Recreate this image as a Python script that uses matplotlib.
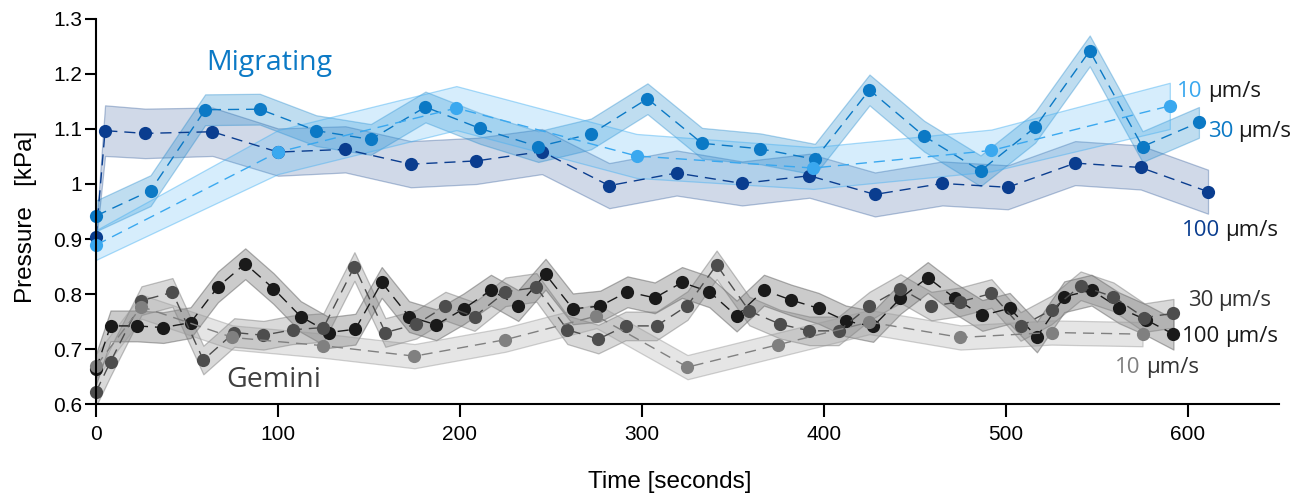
import numpy as np
import matplotlib
matplotlib.use('Agg')
import matplotlib.pyplot as plt
from matplotlib.colors import to_rgba
from matplotlib.ticker import FuncFormatter

# Migrating cells (blue), three pulling speeds
mig10_t = [0, 100, 198, 297, 394, 492, 590]
mig10_p = [0.889, 1.058, 1.138, 1.051, 1.029, 1.061, 1.142]
mig10_err = [0.027, 0.040, 0.040, 0.040, 0.038, 0.038, 0.042]

mig30_t = [0, 30, 60, 90, 121, 151, 181, 211, 243, 272, 303, 333, 365, 395,
           425, 455, 486, 516, 546, 575, 606]
mig30_p = [0.942, 0.988, 1.135, 1.136, 1.097, 1.081, 1.140, 1.101, 1.068, 1.091,
           1.155, 1.074, 1.064, 1.045, 1.171, 1.087, 1.024, 1.103, 1.242, 1.068, 1.112]
mig30_err = 0.028

mig100_t = [0, 5, 27, 64, 100, 137, 173, 209, 245, 282, 319, 355, 392, 428,
            465, 501, 538, 574, 611]
mig100_p = [0.903, 1.097, 1.092, 1.095, 1.058, 1.063, 1.036, 1.042, 1.059, 0.997,
            1.020, 1.001, 1.015, 0.981, 1.001, 0.994, 1.038, 1.030, 0.986]
mig100_err = [0.01, 0.046, 0.045, 0.044, 0.043, 0.042, 0.042, 0.042, 0.041, 0.041,
              0.041, 0.040, 0.040, 0.040, 0.040, 0.040, 0.040, 0.040, 0.040]

# Gemini cells (grey)
gem10_t = [0, 25, 75, 125, 175, 225, 275, 325, 375, 425, 475, 525, 575]
gem10_p = [0.669, 0.777, 0.721, 0.706, 0.687, 0.717, 0.760, 0.667, 0.708, 0.749,
           0.721, 0.730, 0.727]
gem10_err = 0.022

gem30_t = [0, 8, 25, 42, 59, 76, 92, 108, 125, 142, 159, 176, 192, 208, 225, 242,
           259, 276, 291, 308, 325, 341, 359, 376, 392, 408, 425, 442, 459, 475,
           492, 508, 525, 541, 559, 576, 592]
gem30_p = [0.622, 0.677, 0.788, 0.803, 0.680, 0.730, 0.725, 0.735, 0.739, 0.850,
           0.730, 0.745, 0.778, 0.759, 0.804, 0.812, 0.735, 0.718, 0.742, 0.742,
           0.779, 0.853, 0.769, 0.745, 0.733, 0.733, 0.778, 0.810, 0.778, 0.786,
           0.801, 0.741, 0.771, 0.815, 0.795, 0.757, 0.765]
gem30_err = 0.026

gem100_t = [0, 8, 22.5, 37, 52, 67, 82, 97.5, 112.5, 128, 142.5, 157, 172, 187,
            202, 217, 232, 247, 262, 277, 292, 307, 322, 337, 352, 367, 382, 397,
            412, 427, 442, 457, 472, 487, 502, 517, 532, 547, 562, 577, 592]
gem100_p = [0.663, 0.742, 0.742, 0.739, 0.748, 0.813, 0.855, 0.810, 0.759, 0.730,
            0.736, 0.821, 0.759, 0.744, 0.773, 0.807, 0.779, 0.836, 0.773, 0.778,
            0.804, 0.793, 0.821, 0.804, 0.760, 0.807, 0.789, 0.774, 0.751, 0.741,
            0.792, 0.830, 0.792, 0.761, 0.774, 0.722, 0.795, 0.807, 0.775, 0.753,
            0.727]
gem100_err = 0.028

LIGHT_BLUE = '#3aa8ef'
MID_BLUE = '#0b79c5'
DARK_BLUE = '#0a3d8f'
BLACK = '#1a1a1a'
DARK_GREY = '#4d4d4d'
LIGHT_GREY = '#808080'

fig = plt.figure(figsize=(13.11, 4.97), dpi=100)
ax = fig.add_axes([0.0732, 0.1871, 0.9024, 0.7747])


def draw(t, p, err, color, band, fill_a, edge_a):
    t = np.asarray(t, dtype=float)
    p = np.asarray(p, dtype=float)
    err = np.broadcast_to(np.asarray(err, dtype=float), p.shape)
    ax.fill_between(t, p - err, p + err, facecolor=to_rgba(band, fill_a),
                    edgecolor=to_rgba(band, edge_a), linewidth=0.9)
    ax.plot(t, p, linestyle=(0, (8, 5)), color=color, lw=1.0, marker='o',
            ms=9.5, mec='none', clip_on=False)


draw(mig100_t, mig100_p, mig100_err, DARK_BLUE, '#2a5597', 0.22, 0.35)
draw(mig30_t, mig30_p, mig30_err, MID_BLUE, '#1a86cc', 0.28, 0.35)
draw(mig10_t, mig10_p, mig10_err, LIGHT_BLUE, '#45b0f2', 0.22, 0.45)

draw(gem100_t, gem100_p, gem100_err, BLACK, '#555555', 0.30, 0.45)
draw(gem30_t, gem30_p, gem30_err, DARK_GREY, '#777777', 0.28, 0.45)
draw(gem10_t, gem10_p, gem10_err, LIGHT_GREY, '#999999', 0.25, 0.45)

ax.set_xlim(0, 650)
ax.set_ylim(0.6, 1.3)
ax.set_xticks(range(0, 601, 100))
ax.set_yticks(np.arange(0.6, 1.31, 0.1))
ax.yaxis.set_major_formatter(FuncFormatter(lambda v, pos: '%g' % round(v, 2)))
for s in ['top', 'right']:
    ax.spines[s].set_visible(False)
for s in ['left', 'bottom']:
    ax.spines[s].set_linewidth(1.5)
ax.tick_params(axis='x', direction='out', length=9, width=1.5, pad=6, labelsize=15)
ax.tick_params(axis='y', direction='out', length=8, width=1.5, pad=2, labelsize=15)
for lab in ax.get_xticklabels() + ax.get_yticklabels():
    lab.set_family('Liberation Sans')

ax.set_xlabel('Time [seconds]', fontsize=17.5, family='Liberation Sans')
ax.xaxis.set_label_coords(0.485, -0.175)
ax.set_ylabel('Pressure   [kPa]', fontsize=17.5, family='Liberation Sans')
ax.yaxis.set_label_coords(-0.05, 0.487)

ax.text(60.8, 1.22, 'Migrating', color=MID_BLUE, fontsize=20.5, family='Open Sans',
        ha='left', va='center')
ax.text(71.4, 0.644, 'Gemini', color='#404040', fontsize=20.5, family='Open Sans',
        ha='left', va='center')


def speed_label(x, y, num, numcolor, unitcolor):
    t = ax.text(x, y, num, color=numcolor, fontsize=16, family='Open Sans',
                ha='left', va='center', clip_on=False)
    ax.annotate('\u03bcm/s', xy=(1, 0), xycoords=t, xytext=(4, 0),
                textcoords='offset points', ha='left', va='bottom',
                color=unitcolor, fontsize=16, family='Open Sans')


speed_label(593.8, 1.168, '10', LIGHT_BLUE, BLACK)
speed_label(610.8, 1.095, '30', MID_BLUE, BLACK)
speed_label(596.5, 0.916, '100', DARK_BLUE, BLACK)
speed_label(599.8, 0.789, '30', '#333333', '#333333')
speed_label(596.5, 0.722, '100', BLACK, BLACK)
speed_label(559.7, 0.667, '10', LIGHT_GREY, '#333333')

plt.savefig('out.png', dpi=100)
